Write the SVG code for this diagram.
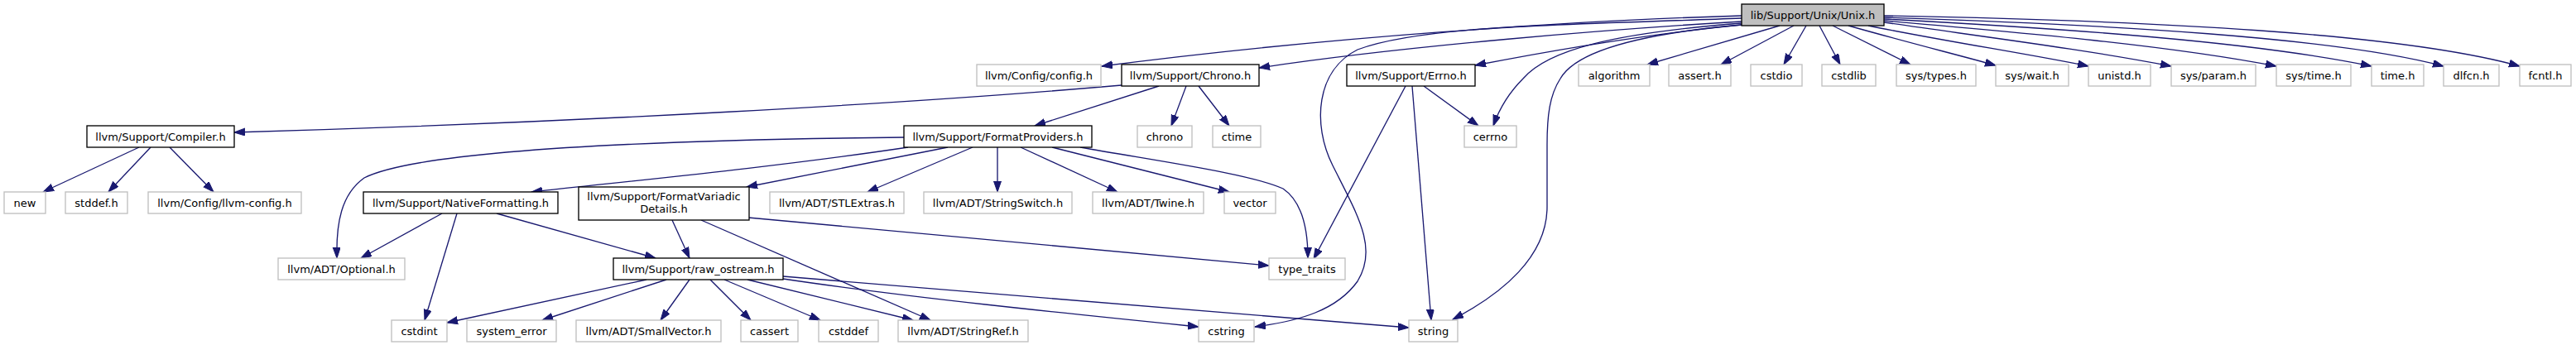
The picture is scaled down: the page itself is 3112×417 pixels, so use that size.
<svg xmlns="http://www.w3.org/2000/svg" width="3112" height="417" viewBox="0 0 3112 417">
<style>
.n rect{fill:#ffffff;stroke:#bfbfbf;stroke-width:1.33}
.d rect{stroke:#000000}
.r rect{fill:#bfbfbf;stroke:#000000;stroke-width:1.33}
text{font-family:"DejaVu Sans","Liberation Sans",sans-serif;font-size:13px;fill:#000;text-anchor:middle}
#edges path{fill:none;stroke:#191970;stroke-width:1.33;marker-end:url(#ah)}
</style>
<defs>
<marker id="ah" markerUnits="userSpaceOnUse" markerWidth="14" markerHeight="10" refX="13" refY="4.5" orient="auto">
<path d="M0,0 L13,4.5 L0,9 z" fill="#191970" stroke="#191970" stroke-width="1"/>
</marker>
</defs>
<rect width="3112" height="417" fill="#ffffff"/>
<g id="edges">
<path d="M2104,19 C1900,25 1600,45 1331,80"/>
<path d="M2104,26 C1950,35 1700,55 1521,82"/>
<path d="M2104,22 C1900,30 1720,30 1640,60 C1590,85 1585,150 1610,200 C1640,260 1665,300 1640,340 C1615,375 1570,388 1516,395"/>
<path d="M2104,30 C2000,40 1880,60 1782,79"/>
<path d="M2104,28 C1950,40 1870,60 1840,95 C1820,115 1810,135 1804,152"/>
<path d="M2104,30 C1990,40 1905,60 1885,95 C1872,115 1869,140 1869,175 L1869,250 C1869,310 1815,355 1755,386"/>
<path d="M2150,31 L1990,78"/>
<path d="M2167,31 L2079,78"/>
<path d="M2182,31 L2155,78"/>
<path d="M2198,31 L2223,78"/>
<path d="M2214,31 L2308,78"/>
<path d="M2233,31 C2300,50 2360,65 2411,79"/>
<path d="M2257,31 C2350,50 2450,65 2523,80"/>
<path d="M2276,27 C2400,45 2520,60 2623,80"/>
<path d="M2276,25 C2450,40 2620,55 2750,80"/>
<path d="M2276,23 C2500,35 2720,50 2865,80"/>
<path d="M2276,21 C2550,30 2820,45 2952,80"/>
<path d="M2276,19 C2600,25 2900,40 3044,80"/>
<path d="M1355,103 C1100,125 700,148 283,160"/>
<path d="M1400,104 L1250,152"/>
<path d="M1433,104 L1415,152"/>
<path d="M1448,104 L1485,152"/>
<path d="M1698,104 L1587,313"/>
<path d="M1706,104 L1729,387"/>
<path d="M1720,104 L1786,152"/>
<path d="M168,178 L52,232"/>
<path d="M182,178 L131,232"/>
<path d="M205,178 L258,232"/>
<path d="M1092,166 C900,168 520,175 440,215 C412,235 406,270 407,312"/>
<path d="M1097,178 C950,200 800,215 642,232"/>
<path d="M1145,178 L902,226"/>
<path d="M1175,178 L1048,232"/>
<path d="M1205,178 L1205,232"/>
<path d="M1233,178 L1350,232"/>
<path d="M1271,178 L1485,232"/>
<path d="M1305,178 C1400,195 1510,210 1550,228 C1575,245 1580,280 1580,312"/>
<path d="M534,258 L436,312"/>
<path d="M552,258 L513,387"/>
<path d="M600,258 L792,312"/>
<path d="M812,266 L833,312"/>
<path d="M847,266 L1124,387"/>
<path d="M904,263 L1533,321"/>
<path d="M781,338 L540,390"/>
<path d="M805,338 L655,387"/>
<path d="M833,338 L798,387"/>
<path d="M858,338 L907,387"/>
<path d="M875,338 L991,387"/>
<path d="M903,338 L1103,387"/>
<path d="M946,337 C1100,360 1300,380 1448,395"/>
<path d="M946,334 C1200,355 1500,380 1702,396"/>
</g>
<g id="unix" class="r"><rect x="2104" y="5" width="172" height="26"/><text x="2190" y="22.5">lib/Support/Unix/Unix.h</text></g>
<g id="config" class="n"><rect x="1180" y="78" width="150" height="26"/><text x="1255" y="95.5">llvm/Config/config.h</text></g>
<g id="chrono_h" class="n d"><rect x="1355" y="78" width="166" height="26"/><text x="1438" y="95.5">llvm/Support/Chrono.h</text></g>
<g id="errno_h" class="n d"><rect x="1627" y="78" width="155" height="26"/><text x="1704.5" y="95.5">llvm/Support/Errno.h</text></g>
<g id="algorithm" class="n"><rect x="1907" y="78" width="86" height="26"/><text x="1950" y="95.5">algorithm</text></g>
<g id="assert_h" class="n"><rect x="2016" y="78" width="75" height="26"/><text x="2053.5" y="95.5">assert.h</text></g>
<g id="cstdio" class="n"><rect x="2115" y="78" width="62" height="26"/><text x="2146" y="95.5">cstdio</text></g>
<g id="cstdlib" class="n"><rect x="2201" y="78" width="65" height="26"/><text x="2233.5" y="95.5">cstdlib</text></g>
<g id="sys_types" class="n"><rect x="2291" y="78" width="96" height="26"/><text x="2339" y="95.5">sys/types.h</text></g>
<g id="sys_wait" class="n"><rect x="2411" y="78" width="88" height="26"/><text x="2455" y="95.5">sys/wait.h</text></g>
<g id="unistd" class="n"><rect x="2523" y="78" width="75" height="26"/><text x="2560.5" y="95.5">unistd.h</text></g>
<g id="sys_param" class="n"><rect x="2623" y="78" width="102" height="26"/><text x="2674" y="95.5">sys/param.h</text></g>
<g id="sys_time" class="n"><rect x="2750" y="78" width="90" height="26"/><text x="2795" y="95.5">sys/time.h</text></g>
<g id="time_h" class="n"><rect x="2865" y="78" width="63" height="26"/><text x="2896.5" y="95.5">time.h</text></g>
<g id="dlfcn" class="n"><rect x="2952" y="78" width="67" height="26"/><text x="2985.5" y="95.5">dlfcn.h</text></g>
<g id="fcntl" class="n"><rect x="3044" y="78" width="62" height="26"/><text x="3075" y="95.5">fcntl.h</text></g>
<g id="compiler" class="n d"><rect x="105" y="152" width="178" height="26"/><text x="194" y="169.5">llvm/Support/Compiler.h</text></g>
<g id="formatproviders" class="n d"><rect x="1092" y="152" width="227" height="26"/><text x="1205.5" y="169.5">llvm/Support/FormatProviders.h</text></g>
<g id="chrono" class="n"><rect x="1374" y="152" width="66" height="26"/><text x="1407" y="169.5">chrono</text></g>
<g id="ctime" class="n"><rect x="1465" y="152" width="58" height="26"/><text x="1494" y="169.5">ctime</text></g>
<g id="cerrno" class="n"><rect x="1769" y="152" width="63" height="26"/><text x="1800.5" y="169.5">cerrno</text></g>
<g id="new" class="n"><rect x="5" y="232" width="50" height="26"/><text x="30" y="249.5">new</text></g>
<g id="stddef" class="n"><rect x="79" y="232" width="75" height="26"/><text x="116.5" y="249.5">stddef.h</text></g>
<g id="llvmconfig" class="n"><rect x="179" y="232" width="185" height="26"/><text x="271.5" y="249.5">llvm/Config/llvm-config.h</text></g>
<g id="nativeformatting" class="n d"><rect x="439" y="232" width="235" height="26"/><text x="556.5" y="249.5">llvm/Support/NativeFormatting.h</text></g>
<g id="formatvariadic" class="n d"><rect x="699" y="226" width="206" height="40"/><text x="802" y="242">llvm/Support/FormatVariadic</text><text x="802" y="257">Details.h</text></g>
<g id="stlextras" class="n"><rect x="930" y="232" width="162" height="26"/><text x="1011" y="249.5">llvm/ADT/STLExtras.h</text></g>
<g id="stringswitch" class="n"><rect x="1116" y="232" width="179" height="26"/><text x="1205.5" y="249.5">llvm/ADT/StringSwitch.h</text></g>
<g id="twine" class="n"><rect x="1320" y="232" width="134" height="26"/><text x="1387" y="249.5">llvm/ADT/Twine.h</text></g>
<g id="vector" class="n"><rect x="1479" y="232" width="62" height="26"/><text x="1510" y="249.5">vector</text></g>
<g id="optional" class="n"><rect x="336" y="312" width="153" height="26"/><text x="412.5" y="329.5">llvm/ADT/Optional.h</text></g>
<g id="raw_ostream" class="n d"><rect x="741" y="312" width="205" height="26"/><text x="843.5" y="329.5">llvm/Support/raw_ostream.h</text></g>
<g id="type_traits" class="n"><rect x="1533" y="312" width="92" height="26"/><text x="1579" y="329.5">type_traits</text></g>
<g id="cstdint" class="n"><rect x="473" y="387" width="67" height="26"/><text x="506.5" y="404.5">cstdint</text></g>
<g id="system_error" class="n"><rect x="564" y="387" width="108" height="26"/><text x="618" y="404.5">system_error</text></g>
<g id="smallvector" class="n"><rect x="696" y="387" width="175" height="26"/><text x="783.5" y="404.5">llvm/ADT/SmallVector.h</text></g>
<g id="cassert" class="n"><rect x="895" y="387" width="69" height="26"/><text x="929.5" y="404.5">cassert</text></g>
<g id="cstddef" class="n"><rect x="989" y="387" width="72" height="26"/><text x="1025" y="404.5">cstddef</text></g>
<g id="stringref" class="n"><rect x="1085" y="387" width="157" height="26"/><text x="1163.5" y="404.5">llvm/ADT/StringRef.h</text></g>
<g id="cstring" class="n"><rect x="1448" y="387" width="67" height="26"/><text x="1481.5" y="404.5">cstring</text></g>
<g id="string" class="n"><rect x="1702" y="387" width="59" height="26"/><text x="1731.5" y="404.5">string</text></g>
</svg>
